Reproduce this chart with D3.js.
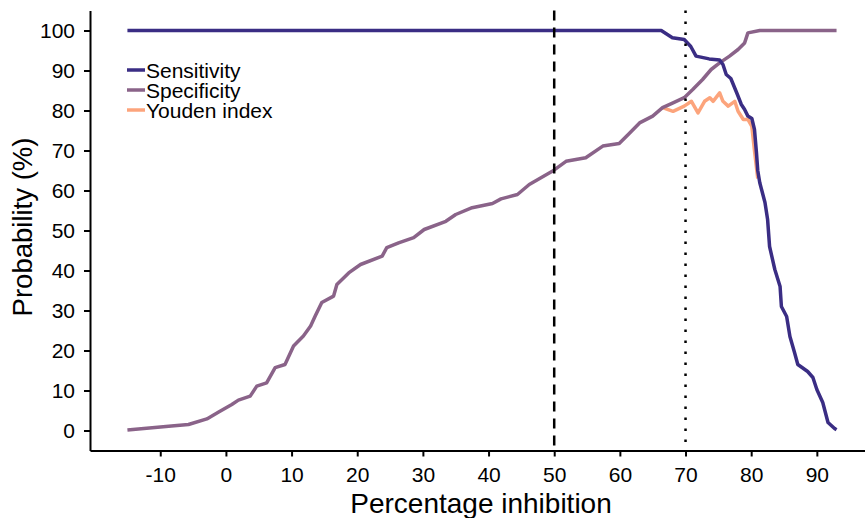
<!DOCTYPE html>
<html>
<head>
<meta charset="utf-8">
<script src="https://cdn.jsdelivr.net/npm/d3@7"></script>
<style>
  body { margin: 0; background: #fff; }
  text { font-family: "Liberation Sans", Arial, sans-serif; }
</style>
</head>
<body>
<svg id="chart"></svg>
<script>
// Sensitivity
const sensX = [-15, 66.3, 68.0, 69.8, 70.8, 71.6, 73.6, 75.2, 75.7, 76.2, 76.9, 77.4, 77.9, 78.5, 79.0, 79.5, 80.1, 80.5, 80.8, 81.0, 81.3, 82.1, 82.5, 82.8, 83.6, 84.4, 84.6, 85.4, 85.9, 86.6, 87.1, 88.6, 89.4, 90.0, 90.9, 91.7, 92.7, 93];
const sensY = [100, 100, 98.2, 97.75, 96, 93.6, 92.9, 92.6, 91.5, 89, 88, 86, 84, 81.5, 80.25, 78.6, 78, 75.25, 69.5, 65, 62, 57, 52.75, 46, 40.25, 36, 31, 28.5, 23.5, 19.5, 16.5, 14.75, 13.25, 10.25, 7, 2, 0.5, 0.2];

// Specificity
const specX = [-15, -8.3, -5.7, -2.9, -1.1, 0.9, 1.9, 3.7, 4.7, 6.2, 7.5, 9.0, 10.3, 11.8, 12.9, 13.6, 14.6, 16.4, 16.9, 18.7, 20.5, 23.8, 24.5, 26.3, 28.6, 30.2, 33.5, 35.0, 37.5, 40.6, 41.9, 44.4, 46.2, 49.7, 51.8, 54.8, 57.4, 59.9, 61.5, 63.0, 65.0, 66.5, 68.1, 69.8, 71.1, 72.6, 73.9, 75.2, 76.7, 78.0, 79.0, 79.5, 81.3, 93];
const specY = [0.1, 1.1, 1.5, 2.9, 4.6, 6.5, 7.6, 8.6, 11.1, 11.9, 15.7, 16.5, 21.1, 23.6, 26.1, 28.6, 32.0, 33.6, 36.5, 39.4, 41.5, 43.6, 45.7, 46.9, 48.2, 50.25, 52.3, 54, 55.7, 56.75, 57.9, 59, 61.5, 64.8, 67.3, 68.2, 71.1, 71.75, 74.4, 76.9, 78.6, 80.7, 81.9, 83.2, 85.25, 87.75, 90.25, 91.9, 93.6, 95.25, 96.9, 99.4, 100, 100];

// Youden index (visible part)
const youdX = [66.5, 68.1, 69.8, 70.9, 71.9, 72.9, 73.7, 74.2, 75.2, 75.7, 76.5, 77.5, 78.0, 78.8, 79.5, 80.1, 80.5, 81.0];
const youdY = [80.7, 79.8, 81.1, 82.3, 79.4, 82.3, 83.2, 82.3, 84.4, 82.3, 81.1, 82.3, 79.8, 77.75, 77.75, 76, 70, 63];

const xTicks = [-10, 0, 10, 20, 30, 40, 50, 60, 70, 80, 90];
const yTicks = [0, 10, 20, 30, 40, 50, 60, 70, 80, 90, 100];
const cutoffs = [50, 70];
const seriesNames = ['Sensitivity', 'Specificity', 'Youden index'];
const seriesColors = ['#3a2d84', '#8a6389', '#fca47c'];

const w = 865;
const h = 518;

const x = d3.scaleLinear().domain([-20.7, 98.4]).range([90, 872]);
const y = d3.scaleLinear().domain([-5, 105]).range([450.5, 10.5]);

const chart = d3.select('#chart')
                .attr('width', w)
                .attr('height', h);

const line = d3.line()
               .x((d) => x(d[0]))
               .y((d) => y(d[1]));

const zip = (a, b) => a.map((v, i) => [v, b[i]]);
const series = [zip(sensX, sensY), zip(specX, specY), zip(youdX, youdY)];

// youden first, then specificity, sensitivity on top
[2, 1, 0].forEach((i) => {
  chart.append('path')
       .datum(series[i])
       .attr('fill', 'none')
       .attr('stroke', seriesColors[i])
       .attr('stroke-width', 3.5)
       .attr('stroke-linejoin', 'round')
       .attr('d', line);
});

// cut-off lines
chart.selectAll('line.cut')
     .data(cutoffs)
     .enter()
     .append('line')
     .attr('class', 'cut')
     .attr('x1', (d) => x(d))
     .attr('x2', (d) => x(d))
     .attr('y1', y(105))
     .attr('y2', y(-5))
     .attr('stroke', '#000')
     .attr('stroke-width', 2.5)
     .attr('stroke-dasharray', (d, i) => i === 0 ? '10,7' : '2.5,8.5');

// axes (plain hyphen for negatives, like the original)
const fmt = (d) => String(d);

const xAxis = chart.append('g')
                   .attr('transform', `translate(0,${y(-5)})`)
                   .call(d3.axisBottom(x).tickValues(xTicks).tickFormat(fmt).tickSize(6).tickSizeOuter(0).tickPadding(11));

const yAxis = chart.append('g')
                   .attr('transform', `translate(${x(-20.7)},0)`)
                   .call(d3.axisLeft(y).tickValues(yTicks).tickFormat(fmt).tickSize(6).tickSizeOuter(0).tickPadding(9));

[xAxis, yAxis].forEach((a) => {
  a.selectAll('path, line').attr('stroke', '#000').attr('stroke-width', 2);
  a.selectAll('text').attr('fill', '#000').style('font-size', '21px');
});

chart.append('text')
     .attr('x', 481)
     .attr('y', 513)
     .attr('text-anchor', 'middle')
     .style('font-size', '28px')
     .text('Percentage inhibition');

chart.append('text')
     .attr('transform', 'translate(32,227) rotate(-90)')
     .attr('text-anchor', 'middle')
     .style('font-size', '27.5px')
     .text('Probability (%)');

// legend
const legend = chart.append('g');
seriesNames.forEach((name, i) => {
  legend.append('line')
        .attr('x1', 127)
        .attr('x2', 145)
        .attr('y1', 70 + i * 20)
        .attr('y2', 70 + i * 20)
        .attr('stroke', seriesColors[i])
        .attr('stroke-width', 3.5);
  legend.append('text')
        .attr('x', 146)
        .attr('y', 78 + i * 20)
        .style('font-size', '21px')
        .text(name);
});
</script>
</body>
</html>
